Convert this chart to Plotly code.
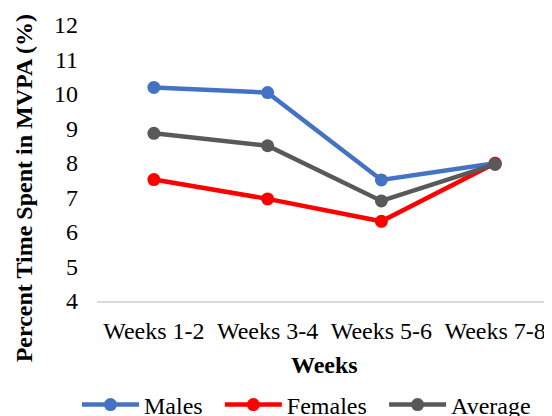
import plotly.graph_objects as go

categories = ["Weeks 1-2", "Weeks 3-4", "Weeks 5-6", "Weeks 7-8"]
males = [10.19, 10.04, 7.51, 7.99]
females = [7.52, 6.96, 6.31, 7.99]
average = [8.86, 8.50, 6.90, 7.96]
y_ticks = [4, 5, 6, 7, 8, 9, 10, 11, 12]

FONT = "Liberation Serif"
F = dict(family=FONT, size=24, color="black")

series = [("Males", males, "#4472C4", "legend", -0.044),
          ("Females", females, "#FF0000", "legend2", 0.27),
          ("Average", average, "#595959", "legend3", 0.631)]

fig = go.Figure()
legends = {}
for name, vals, color, lg, lx in series:
    fig.add_trace(go.Scatter(
        x=categories, y=vals, name=name, mode="lines+markers",
        line=dict(color=color, width=4.5),
        marker=dict(color=color, size=13),
        legend=lg,
    ))
    legends[lg] = dict(orientation="h", x=lx, xanchor="left", yref="container",
                       y=0.0457, yanchor="middle", font=F, itemwidth=57,
                       bgcolor="rgba(0,0,0,0)")

fig.update_layout(
    width=552, height=416,
    margin=dict(l=89, r=8, t=17, b=123, autoexpand=False),
    paper_bgcolor="white", plot_bgcolor="white",
    font=F,
    showlegend=True,
    xaxis=dict(type="category", showgrid=False, showline=True, linecolor="#D9D9D9",
               linewidth=1.5, ticks="", tickfont=F, zeroline=False, automargin=False,
               range=[-0.5, 3.5], ticklabelstandoff=7),
    yaxis=dict(range=[4, 12], tickvals=y_ticks, showgrid=False, showline=False,
               zeroline=False, ticks="", tickfont=F, ticklabelstandoff=18, automargin=False),
    annotations=[
        dict(text="<b>Percent Time Spent in MVPA (%)</b>", xref="paper", yref="paper",
             x=-0.16, y=0.409, textangle=-90, showarrow=False, font=F,
             xanchor="center", yanchor="middle"),
        dict(text="<b>Weeks</b>", xref="paper", yref="paper", x=0.5, y=-0.232,
             showarrow=False, font=F, xanchor="center", yanchor="middle"),
    ],
    **legends,
)

fig.write_html("out.html")
